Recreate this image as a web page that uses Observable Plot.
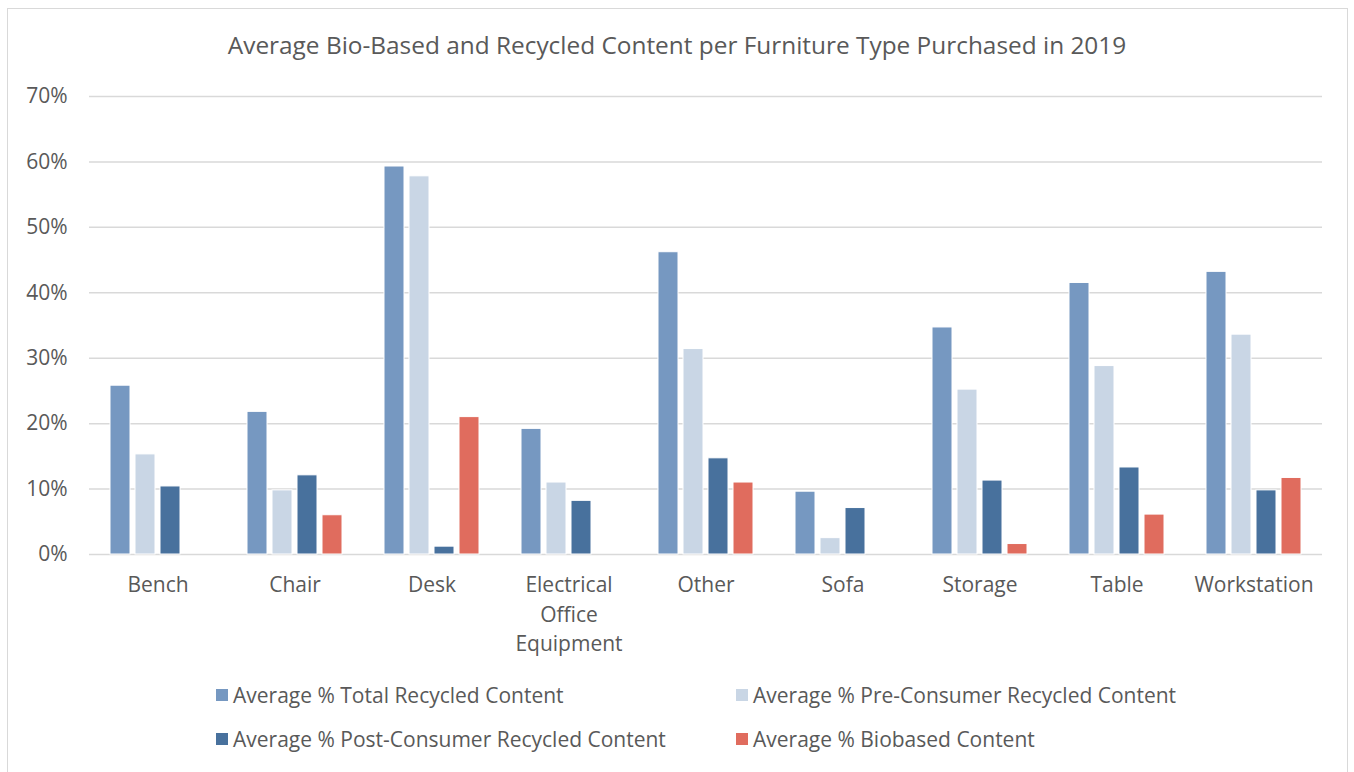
<!DOCTYPE html>
<html>
<head>
<meta charset="utf-8">
<script src="https://cdn.jsdelivr.net/npm/d3@7"></script>
<script src="https://cdn.jsdelivr.net/npm/@observablehq/plot@0.6"></script>
<style>
  html, body { margin: 0; padding: 0; background: #fff; }
  body { width: 1354px; height: 772px; position: relative; overflow: hidden; font-family: "Open Sans", sans-serif; color: #595959; }
  #frame { position: absolute; left: 7px; top: 8px; width: 1341px; height: 800px; border: 1.5px solid #d9d9d9; box-sizing: border-box; }
  #title { position: absolute; left: 0; width: 1354px; top: 28px; line-height: 34px; text-align: center; font-size: 24.4px; color: #595959; }
  #chart { position: absolute; left: 0; top: 0; }
  .leg { position: absolute; font-size: 21px; color: #595959; white-space: nowrap; display: flex; align-items: center; }
  .leg span.sw { display: inline-block; width: 12px; height: 12px; margin-right: 5px; }
</style>
</head>
<body>
<div id="frame"></div>
<div id="title">Average Bio-Based and Recycled Content per Furniture Type Purchased in 2019</div>
<div id="chart"></div>
<div id="legend"></div>
<script>
const categories = ["Bench", "Chair", "Desk", "Electrical\nOffice\nEquipment", "Other", "Sofa", "Storage", "Table", "Workstation"];
const seriesNames = [
  "Average % Total Recycled Content",
  "Average % Pre-Consumer Recycled Content",
  "Average % Post-Consumer Recycled Content",
  "Average % Biobased Content"
];
const seriesColors = ["#7698c1", "#c9d6e5", "#48719d", "#e06c5e"];
const totalRecycled = [25.8, 21.8, 59.3, 19.2, 46.2, 9.6, 34.7, 41.5, 43.2];
const preConsumer   = [15.3, 9.8, 57.8, 11.0, 31.4, 2.5, 25.2, 28.8, 33.6];
const postConsumer  = [10.4, 12.1, 1.2, 8.2, 14.7, 7.1, 11.3, 13.3, 9.8];
const biobased      = [0, 6.0, 21.0, 0, 11.0, 0, 1.6, 6.1, 11.7];
const yTicks = [0, 10, 20, 30, 40, 50, 60, 70];

const seriesValues = [totalRecycled, preConsumer, postConsumer, biobased];
const data = [];
categories.forEach((c, i) => {
  seriesNames.forEach((s, j) => {
    data.push({category: c, series: s, value: seriesValues[j][i]});
  });
});

const chart = Plot.plot({
  width: 1354,
  height: 660,
  marginLeft: 88,
  marginRight: 32,
  marginTop: 96,
  marginBottom: 106,
  style: {fontFamily: "'Open Sans', sans-serif", color: "#595959", background: "transparent"},
  fx: {domain: categories, padding: 0, label: null},
  x: {domain: seriesNames, axis: null, paddingInner: 0.2, paddingOuter: 0.84},
  y: {domain: [0, 70], ticks: yTicks, label: null},
  color: {domain: seriesNames, range: seriesColors},
  marks: [
    Plot.ruleY(yTicks, {stroke: "#d9d9d9", strokeWidth: 1.5, strokeOpacity: 1}),
    Plot.barY(data.filter(d => d.value > 0), {
      fx: "category", x: "series", y: "value", fill: "series",
      stroke: "white", strokeWidth: 1
    }),
    Plot.axisY({ticks: yTicks, tickSize: 0, tickPadding: 22, tickFormat: d => d + "%", fontSize: 21, fill: "#595959"}),
    Plot.axisFx({tickSize: 0, tickPadding: 17, fontSize: 21, lineHeight: 1.4, fill: "#595959", label: null, anchor: "bottom"})
  ]
});
document.getElementById("chart").appendChild(chart);

const legend = document.getElementById("legend");
const legPos = [[216, 695], [736, 695], [216, 739], [736, 739]];
seriesNames.forEach((s, j) => {
  const el = document.createElement("div");
  el.className = "leg";
  el.style.left = legPos[j][0] + "px";
  el.style.top = (legPos[j][1] - 13) + "px";
  el.style.height = "26px";
  el.innerHTML = `<span class="sw" style="background:${seriesColors[j]}"></span>${s}`;
  legend.appendChild(el);
});
</script>
</body>
</html>
